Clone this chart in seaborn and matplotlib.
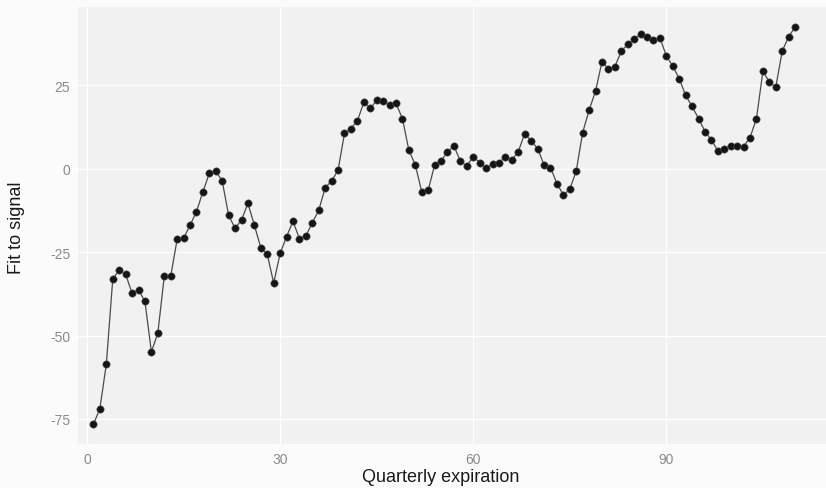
import numpy as np
import pandas as pd
import matplotlib
matplotlib.use("Agg")
import matplotlib.pyplot as plt
import seaborn as sns

# quarterly expiration index and fitted signal values
quarter = list(range(1, 111))
fit = [
    -76.6, -71.9, -58.6, -33.1, -30.4, -31.6, -37.4, -36.3, -39.8, -54.9,
    -49.3, -32.3, -32.3, -21.2, -20.9, -17.0, -12.9, -7.0, -1.4, -0.7,
    -3.7, -14.0, -17.9, -15.4, -10.4, -17.0, -23.7, -25.7, -34.3, -25.4,
    -20.4, -15.8, -21.0, -20.2, -16.2, -12.5, -5.7, -3.7, -0.5, 10.6,
    12.0, 14.3, 19.8, 18.0, 20.4, 20.2, 19.0, 19.5, 15.0, 5.5,
    1.1, -7.0, -6.5, 1.1, 2.3, 5.0, 6.8, 2.2, 0.8, 3.6,
    1.8, 0.1, 1.3, 1.8, 3.6, 2.6, 5.1, 10.5, 8.3, 6.0,
    1.1, 0.3, -4.5, -7.9, -6.2, -0.7, 10.8, 17.5, 23.2, 32.0,
    29.9, 30.5, 35.2, 37.2, 38.9, 40.2, 39.5, 38.5, 39.2, 33.7,
    30.7, 26.9, 21.9, 18.6, 15.0, 11.1, 8.6, 5.3, 6.0, 6.8,
    6.8, 6.6, 9.3, 15.0, 29.2, 25.9, 24.4, 35.2, 39.5, 42.4,
]
x_ticks = [0, 30, 60, 90]
y_ticks = [-75, -50, -25, 0, 25]

sns.set_theme(style="darkgrid")
plt.rcParams["font.family"] = ["Liberation Sans", "DejaVu Sans"]
plt.rcParams["axes.unicode_minus"] = False

df = pd.DataFrame({"quarter": quarter, "fit": fit})

fig = plt.figure(figsize=(8.26, 4.89), dpi=100, facecolor="#fbfbfb")
ax = fig.add_axes([78 / 826, 1 - 445 / 489, 1 - 78 / 826, (445 - 8) / 489])
ax.set_facecolor("#f1f1f1")

sns.lineplot(data=df, x="quarter", y="fit", color="#4a4a4a", linewidth=0.9, ax=ax)
sns.scatterplot(
    data=df, x="quarter", y="fit", color="#151515", s=28,
    edgecolor="#555555", linewidth=0.4, ax=ax, zorder=3,
)

ax.set_xlim(-1.4, 114.8)
ax.set_ylim(-82.5, 48.4)
ax.set_xticks(x_ticks)
ax.set_yticks(y_ticks)
ax.grid(True, color="white", linewidth=0.9)
ax.tick_params(
    axis="both", length=3.5, width=0.8, color="#8a8a8a",
    labelcolor="#8a8a8a", labelsize=10, pad=2,
)
for s in ax.spines.values():
    s.set_visible(False)

ax.set_xlabel("")
ax.set_ylabel("")
fig.text(441 / 826, 1 - 478 / 489, "Quarterly expiration",
         ha="center", va="center", fontsize=13, color="#1a1a1a")
fig.text(17 / 826, 1 - 228 / 489, "Fit to signal", rotation=90,
         ha="center", va="center", fontsize=13, color="#1a1a1a")

fig.savefig("out.png", dpi=100, facecolor=fig.get_facecolor())
